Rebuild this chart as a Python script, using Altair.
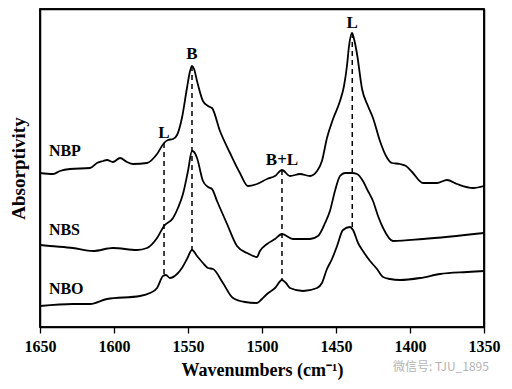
import altair as alt
import pandas as pd

FONT = "Liberation Serif"

# ---- spectra (wavenumber, absorptivity in arbitrary units) ----
wn_nbp = [1650, 1641.2, 1636.5, 1629.7, 1616.2, 1611.5, 1607.4, 1604.7, 1600.7, 1595.9,
          1591.2, 1587.2, 1577.7, 1570.9, 1566.2, 1563.5, 1560.1, 1557.4, 1554.1, 1550.7,
          1548.6, 1547.3, 1545.9, 1543.9, 1539.9, 1536.5, 1533.8, 1528.4, 1521.6, 1514.9,
          1509.5, 1503.4, 1496.6, 1491.2, 1486.5, 1481.1, 1474.3, 1467.6, 1462.8, 1459.5,
          1456.1, 1452.0, 1447.3, 1444.6, 1442.6, 1441.2, 1439.2, 1437.8, 1435.8, 1432.4,
          1428.4, 1425.0, 1420.3, 1416.2, 1412.2, 1406.8, 1402.7, 1398.6, 1391.2, 1381.8,
          1375.0, 1368.2, 1357.4, 1350]
a_nbp = [1.57, 1.56, 1.59, 1.61, 1.62, 1.67, 1.69, 1.70, 1.68, 1.72,
         1.68, 1.66, 1.67, 1.76, 1.87, 1.90, 1.91, 1.95, 2.12, 2.42,
         2.59, 2.64, 2.61, 2.49, 2.29, 2.24, 2.22, 1.99, 1.77, 1.57,
         1.44, 1.46, 1.51, 1.54, 1.60, 1.54, 1.56, 1.54, 1.59, 1.69,
         1.92, 2.11, 2.29, 2.44, 2.64, 2.84, 2.97, 2.91, 2.76, 2.41,
         2.24, 2.12, 1.89, 1.74, 1.67, 1.66, 1.64, 1.58, 1.47, 1.47,
         1.50, 1.46, 1.42, 1.44]

wn_nbs = [1650, 1643.2, 1627.7, 1614.2, 1600.7, 1584.5, 1577.7, 1570.9, 1566.2, 1560.1,
          1556.8, 1553.4, 1550.0, 1547.3, 1545.9, 1543.9, 1539.9, 1536.5, 1533.8, 1530.4,
          1523.6, 1516.9, 1510.1, 1503.4, 1501.4, 1496.6, 1491.2, 1486.5, 1479.1, 1467.6,
          1462.2, 1457.4, 1454.1, 1450.7, 1447.3, 1443.9, 1439.2, 1435.8, 1431.8, 1428.4,
          1425.0, 1421.6, 1418.2, 1411.5, 1391.2, 1350]
a_nbs = [0.85, 0.84, 0.82, 0.79, 0.82, 0.80, 0.82, 0.92, 1.04, 1.12,
         1.22, 1.36, 1.59, 1.79, 1.78, 1.72, 1.49, 1.43, 1.41, 1.29,
         1.06, 0.84, 0.77, 0.73, 0.79, 0.86, 0.91, 0.96, 0.91, 0.91,
         0.94, 1.07, 1.19, 1.39, 1.54, 1.57, 1.57, 1.56, 1.49, 1.39,
         1.29, 1.14, 1.02, 0.89, 0.91, 0.97]

wn_nbo = [1650, 1627.7, 1616.2, 1604.7, 1582.4, 1575.7, 1570.9, 1566.9, 1564.9, 1562.2,
          1557.4, 1554.1, 1550.7, 1547.3, 1543.9, 1539.9, 1536.5, 1533.1, 1526.4, 1519.6,
          1511.5, 1503.4, 1500.0, 1496.6, 1491.2, 1486.5, 1483.8, 1481.1, 1472.3, 1462.8,
          1459.5, 1456.1, 1452.7, 1449.3, 1445.3, 1440.5, 1438.5, 1435.1, 1431.8, 1427.0,
          1422.3, 1418.2, 1413.5, 1406.8, 1393.2, 1379.7, 1361.5, 1350]
a_nbo = [0.24, 0.26, 0.26, 0.31, 0.34, 0.37, 0.42, 0.54, 0.55, 0.52,
         0.56, 0.62, 0.71, 0.80, 0.74, 0.67, 0.62, 0.61, 0.47, 0.32,
         0.28, 0.27, 0.31, 0.36, 0.42, 0.50, 0.47, 0.42, 0.39, 0.42,
         0.47, 0.61, 0.71, 0.84, 1.00, 1.03, 1.00, 0.87, 0.79, 0.69,
         0.61, 0.53, 0.51, 0.50, 0.52, 0.56, 0.58, 0.59]

# ---- sample names ----
sample_names = ["NBP", "NBS", "NBO"]
sample_wn = [1644, 1644, 1644]
sample_a = [1.79, 1.00, 0.41]

# ---- band assignments (dashed guides) ----
band_labels = ["L", "B", "B+L", "L"]
band_wn = [1566.2, 1547.3, 1486.5, 1439.0]
band_top = [1.87, 2.64, 1.60, 2.97]
band_bottom = [0.56, 0.80, 0.50, 1.03]
band_label_a = [1.97, 2.76, 1.70, 3.07]

# ---- axis ----
x_ticks = [1650, 1600, 1550, 1500, 1450, 1400, 1350]
x_min, x_max = 1350, 1650
y_min, y_max = 0.03, 3.21

watermark_text = ["微信号: TJU_1895"]
watermark_wn = [1411.5]
watermark_a = [-0.37]

PLOT_W, PLOT_H = 444, 318

rows = []
for name, xs, ys in [("NBP", wn_nbp, a_nbp), ("NBS", wn_nbs, a_nbs), ("NBO", wn_nbo, a_nbo)]:
    for x, y in zip(xs, ys):
        rows.append({"series": name, "wn": x, "a": y})
spectra = pd.DataFrame(rows)

bands = pd.DataFrame({"label": band_labels, "wn": band_wn, "top": band_top,
                      "bottom": band_bottom, "la": band_label_a})
samples = pd.DataFrame({"name": sample_names, "wn": sample_wn, "a": sample_a})
wm = pd.DataFrame({"t": watermark_text, "wn": watermark_wn, "a": watermark_a})
box = pd.DataFrame({"x1": [x_max], "x2": [x_min], "y1": [y_min], "y2": [y_max]})

xscale = alt.Scale(domain=[1650, 1350], nice=False, zero=False)
yscale = alt.Scale(domain=[y_min, y_max], nice=False, zero=False)

xaxis = alt.Axis(values=x_ticks, format="d", title="Wavenumbers (cm⁻¹)",
                 labelFont=FONT, labelFontSize=16, labelFontWeight="bold", labelColor="black",
                 titleFont=FONT, titleFontSize=18, titleFontWeight="bold", titleColor="black",
                 tickSize=6, tickColor="black", tickWidth=1.3, domainColor="black",
                 domainWidth=1.5, labelPadding=5, titlePadding=7, grid=False,
                 labelFlush=False, labelOverlap=False, orient="bottom")
yaxis = alt.Axis(title="Absorptivity", labels=False, ticks=False, grid=False,
                 domainColor="black", domainWidth=1.5, titleFont=FONT, titleFontSize=19,
                 titleFontWeight="bold", titleColor="black", titlePadding=12, orient="left")

# top and right edges of the box as bare axis lines
xaxis_top = alt.Axis(orient="top", labels=False, ticks=False, title=None, grid=False,
                     domainColor="black", domainWidth=1.5)
yaxis_right = alt.Axis(orient="right", labels=False, ticks=False, title=None, grid=False,
                       domainColor="black", domainWidth=1.5)

frame_box = alt.Chart(box).mark_rect(filled=False, stroke="black", strokeWidth=1.5).encode(
    x=alt.X("x1:Q", scale=xscale, axis=xaxis_top), x2="x2:Q",
    y=alt.Y("y1:Q", scale=yscale, axis=yaxis_right), y2="y2:Q")

lines = alt.Chart(spectra).mark_line(color="black", strokeWidth=1.8,
                                     interpolate="monotone").encode(
    x=alt.X("wn:Q", scale=xscale, axis=xaxis),
    y=alt.Y("a:Q", scale=yscale, axis=yaxis),
    detail="series:N",
)

guides = alt.Chart(bands).mark_rule(color="black", strokeWidth=1.5,
                                    strokeDash=[5, 4]).encode(
    x=alt.X("wn:Q", scale=xscale, axis=None),
    y=alt.Y("top:Q", scale=yscale, axis=None), y2="bottom:Q")

band_text = alt.Chart(bands).mark_text(font=FONT, fontSize=17, fontWeight="bold",
                                       color="black", baseline="middle").encode(
    x=alt.X("wn:Q", scale=xscale, axis=None),
    y=alt.Y("la:Q", scale=yscale, axis=None), text="label:N")

sample_text = alt.Chart(samples).mark_text(font=FONT, fontSize=16, fontWeight="bold",
                                           color="black", align="left",
                                           baseline="middle").encode(
    x=alt.X("wn:Q", scale=xscale, axis=None),
    y=alt.Y("a:Q", scale=yscale, axis=None), text="name:N")

wm_text = alt.Chart(wm).mark_text(font="Noto Sans CJK SC", fontSize=12, color="#b4b4b4",
                                  align="left", baseline="middle").encode(
    x=alt.X("wn:Q", scale=xscale, axis=None),
    y=alt.Y("a:Q", scale=yscale, axis=None), text="t:N")

chart = alt.layer(lines, frame_box, guides, band_text, sample_text, wm_text).resolve_axis(
    x="independent", y="independent"
).properties(
    width=PLOT_W, height=PLOT_H,
    autosize=alt.AutoSizeParams(type="none"),
    padding={"left": 32, "top": 1, "right": 20, "bottom": 54},
).configure_view(stroke="black", strokeWidth=1.5)

chart.save("out.html", embed_options={"renderer": "svg", "actions": False})
